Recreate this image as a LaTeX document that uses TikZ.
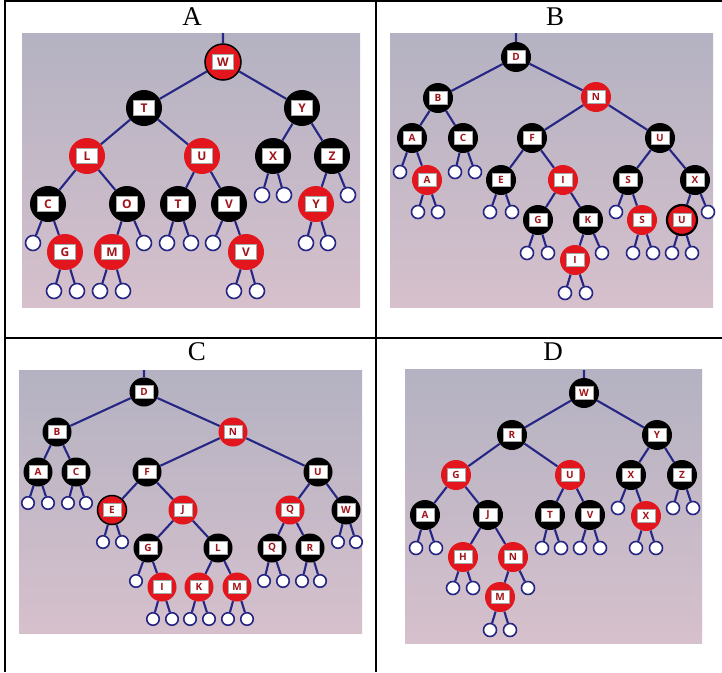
\documentclass[tikz,border=0pt]{standalone}
\usepackage{fontspec}
\setmainfont{Liberation Serif}
\newfontfamily\lblfont{Open Sans}
\definecolor{rbred}{RGB}{226,22,28}
\definecolor{lettred}{RGB}{160,20,26}
\definecolor{edgeblue}{RGB}{38,38,132}
\definecolor{bgtop}{RGB}{180,178,194}
\definecolor{bgmid}{RGB}{168,170,188}
\definecolor{bgbot}{RGB}{214,192,204}
\tikzset{
  edge/.style={draw=edgeblue, line width=2.1pt},
  bnode/.style={circle, inner sep=0pt, ndsize, fill=black},
  rnode/.style={circle, inner sep=0pt, ndsize, fill=rbred},
  leaf/.style={circle, inner sep=0pt, lfsize, fill=white, draw=edgeblue, line width=1.6pt},
  lbl/.style={rectangle, inner sep=0pt, lbsize, fill=white, draw=black!35, line width=0.3pt, text=lettred},
  title/.style={font=\fontsize{27}{27}\selectfont},
  panelbg/.style={top color=bgtop, middle color=bgmid, bottom color=bgbot},
  frame/.style={line width=1.5pt}
}
% black node, red node, leaf
\newcommand\bn[3]{\node[bnode] (#1) at (#2) {}; \node[lbl] (#1-t) at (#1) {#3};}
\newcommand\rn[4][]{\node[rnode,#1] (#2) at (#3) {}; \node[lbl] (#2-t) at (#2) {#4};}
\newcommand\lf[2]{\node[leaf] (#1) at (#2) {};}
\begin{document}
\begin{tikzpicture}[x=1pt,y=-1pt]
\useasboundingbox (0,0) rectangle (722,672);
\fill[white] (0,0) rectangle (722,672);

% panel backgrounds
\shade[panelbg] (22,33) rectangle (360,307);
\shade[panelbg] (390,33) rectangle (713,307);
\shade[panelbg] (19,370) rectangle (362,633);
\shade[panelbg] (405,369) rectangle (702,643);

% grid lines
\draw[frame] (5,672) -- (5,1) -- (722,1);
\draw[frame] (376,1) -- (376,672);
\draw[frame] (5,338) -- (722,338);

% titles
\node[title] (tA) at (192,17) {A};
\node[title] (tB) at (555,17) {B};
\node[title] (tC) at (197,352) {C};
\node[title] (tD) at (553,352) {D};

% ---------------- panel A ----------------
\begin{scope}[ndsize/.style={minimum size=36pt}, lfsize/.style={minimum size=15pt},
  lbsize/.style={minimum width=21pt, minimum height=15pt, font=\lblfont\bfseries\fontsize{12}{12}\selectfont}]
\rn[draw=black,line width=1.5pt]{aW}{223,62}{W}
\bn{aT}{144,108}{T}
\bn{aY}{302,108}{Y}
\rn{aL}{87,156}{L}
\rn{aU}{202,156}{U}
\bn{aX}{273,156}{X}
\bn{aZ}{332,156}{Z}
\bn{aC}{48,204}{C}
\bn{aO}{127,204}{O}
\bn{aT2}{178,204}{T}
\bn{aV}{229,204}{V}
\rn{aY2}{316,204}{Y}
\rn{aG}{65,252}{G}
\rn{aM}{112,252}{M}
\rn{aV2}{246,252}{V}
\lf{aXl}{262,195} \lf{aXr}{284,195} \lf{aZr}{348,195}
\lf{aCl}{33,243} \lf{aOr}{144,243}
\lf{aT2l}{167,243} \lf{aT2r}{191,243}
\lf{aVl}{213,243}
\lf{aY2l}{306,243} \lf{aY2r}{328,243}
\lf{aGl}{54,291} \lf{aGr}{77,291}
\lf{aMl}{100,291} \lf{aMr}{123,291}
\lf{aV2l}{234,291} \lf{aV2r}{257,291}
\coordinate (aTop) at (223,33);
\path[edge] (aTop) -- (aW) (aW) -- (aT) (aW) -- (aY)
  (aT) -- (aL) (aT) -- (aU) (aY) -- (aX) (aY) -- (aZ)
  (aL) -- (aC) (aL) -- (aO) (aU) -- (aT2) (aU) -- (aV)
  (aX) -- (aXl) (aX) -- (aXr) (aZ) -- (aY2) (aZ) -- (aZr)
  (aC) -- (aCl) (aC) -- (aG) (aO) -- (aM) (aO) -- (aOr)
  (aT2) -- (aT2l) (aT2) -- (aT2r) (aV) -- (aVl) (aV) -- (aV2)
  (aY2) -- (aY2l) (aY2) -- (aY2r)
  (aG) -- (aGl) (aG) -- (aGr) (aM) -- (aMl) (aM) -- (aMr)
  (aV2) -- (aV2l) (aV2) -- (aV2r);
\end{scope}

% ---------------- panel B ----------------
\begin{scope}[ndsize/.style={minimum size=30pt}, lfsize/.style={minimum size=13pt},
  lbsize/.style={minimum width=18pt, minimum height=13pt, font=\lblfont\bfseries\fontsize{10}{10}\selectfont}]
\bn{bD}{516,57}{D}
\bn{bB}{438,98}{B}
\rn{bN}{596,97}{N}
\bn{bA}{412,138}{A}
\bn{bC}{463,138}{C}
\bn{bF}{532,138}{F}
\bn{bU}{660,138}{U}
\rn{bA2}{427,180}{A}
\bn{bE}{501,180}{E}
\rn{bI}{563,180}{I}
\bn{bS}{628,180}{S}
\bn{bX}{695,180}{X}
\bn{bG}{538,220}{G}
\bn{bK}{588,220}{K}
\rn{bS2}{642,220}{S}
\rn[draw=black,line width=2.2pt]{bU2}{682,220}{U}
\rn{bI2}{575,260}{I}
\lf{bAl}{400,172} \lf{bCl}{455,172} \lf{bCr}{475,172}
\lf{bA2l}{418,212} \lf{bA2r}{438,212}
\lf{bEl}{490,212} \lf{bEr}{512,212}
\lf{bSl}{616,212} \lf{bXr}{708,212}
\lf{bGl}{527,253} \lf{bGr}{548,253} \lf{bKr}{602,253}
\lf{bS2l}{633,253} \lf{bS2r}{653,253}
\lf{bU2l}{672,253} \lf{bU2r}{692,253}
\lf{bI2l}{565,293} \lf{bI2r}{586,293}
\coordinate (bTop) at (516,33);
\path[edge] (bTop) -- (bD) (bD) -- (bB) (bD) -- (bN)
  (bB) -- (bA) (bB) -- (bC) (bN) -- (bF) (bN) -- (bU)
  (bA) -- (bAl) (bA) -- (bA2) (bC) -- (bCl) (bC) -- (bCr)
  (bF) -- (bE) (bF) -- (bI) (bU) -- (bS) (bU) -- (bX)
  (bA2) -- (bA2l) (bA2) -- (bA2r) (bE) -- (bEl) (bE) -- (bEr)
  (bI) -- (bG) (bI) -- (bK) (bS) -- (bSl) (bS) -- (bS2)
  (bX) -- (bU2) (bX) -- (bXr)
  (bG) -- (bGl) (bG) -- (bGr) (bK) -- (bI2) (bK) -- (bKr)
  (bS2) -- (bS2l) (bS2) -- (bS2r) (bU2) -- (bU2l) (bU2) -- (bU2r)
  (bI2) -- (bI2l) (bI2) -- (bI2r);
\end{scope}

% ---------------- panel C ----------------
\begin{scope}[ndsize/.style={minimum size=29pt}, lfsize/.style={minimum size=12.5pt},
  lbsize/.style={minimum width=18pt, minimum height=13pt, font=\lblfont\bfseries\fontsize{10}{10}\selectfont}]
\bn{cD}{144,392}{D}
\bn{cB}{57,432}{B}
\rn{cN}{233,432}{N}
\bn{cA}{38,472}{A}
\bn{cC}{76,472}{C}
\bn{cF}{147,472}{F}
\bn{cU}{318,472}{U}
\rn[draw=black,line width=1.5pt]{cE}{112,510}{E}
\rn{cJ}{183,510}{J}
\rn{cQ}{290,510}{Q}
\bn{cW}{346,510}{W}
\bn{cG}{148,548}{G}
\bn{cL}{218,548}{L}
\bn{cQ2}{272,548}{Q}
\bn{cR}{310,548}{R}
\rn{cI}{162,587}{I}
\rn{cK}{199,587}{K}
\rn{cM}{237,587}{M}
\lf{cAl}{28,503} \lf{cAr}{48,503} \lf{cCl}{68,503} \lf{cCr}{86,503}
\lf{cEl}{103,542} \lf{cEr}{122,542}
\lf{cWl}{338,542} \lf{cWr}{356,542}
\lf{cGl}{136,581}
\lf{cQ2l}{264,581} \lf{cQ2r}{283,581}
\lf{cRl}{302,581} \lf{cRr}{320,581}
\lf{cIl}{153,619} \lf{cIr}{172,619}
\lf{cKl}{190,619} \lf{cKr}{209,619}
\lf{cMl}{228,619} \lf{cMr}{247,619}
\coordinate (cTop) at (144,370);
\path[edge] (cTop) -- (cD) (cD) -- (cB) (cD) -- (cN)
  (cB) -- (cA) (cB) -- (cC) (cN) -- (cF) (cN) -- (cU)
  (cA) -- (cAl) (cA) -- (cAr) (cC) -- (cCl) (cC) -- (cCr)
  (cF) -- (cE) (cF) -- (cJ) (cU) -- (cQ) (cU) -- (cW)
  (cE) -- (cEl) (cE) -- (cEr) (cJ) -- (cG) (cJ) -- (cL)
  (cQ) -- (cQ2) (cQ) -- (cR) (cW) -- (cWl) (cW) -- (cWr)
  (cG) -- (cGl) (cG) -- (cI) (cL) -- (cK) (cL) -- (cM)
  (cQ2) -- (cQ2l) (cQ2) -- (cQ2r) (cR) -- (cRl) (cR) -- (cRr)
  (cI) -- (cIl) (cI) -- (cIr) (cK) -- (cKl) (cK) -- (cKr)
  (cM) -- (cMl) (cM) -- (cMr);
\end{scope}

% ---------------- panel D ----------------
\begin{scope}[ndsize/.style={minimum size=30pt}, lfsize/.style={minimum size=13pt},
  lbsize/.style={minimum width=18pt, minimum height=13pt, font=\lblfont\bfseries\fontsize{10}{10}\selectfont}]
\bn{dW}{584,393}{W}
\bn{dR}{512,435}{R}
\bn{dY}{657,435}{Y}
\rn{dG}{456,475}{G}
\rn{dU}{570,475}{U}
\bn{dX}{631,475}{X}
\bn{dZ}{682,475}{Z}
\bn{dA}{425,515}{A}
\bn{dJ}{488,515}{J}
\bn{dT}{550,515}{T}
\bn{dV}{590,515}{V}
\rn{dX2}{646,516}{X}
\rn{dH}{463,557}{H}
\rn{dN}{513,557}{N}
\rn{dM}{500,597}{M}
\lf{dXl}{618,508} \lf{dZl}{673,508} \lf{dZr}{693,508}
\lf{dAl}{416,548} \lf{dAr}{436,548}
\lf{dTl}{542,548} \lf{dTr}{561,548}
\lf{dVl}{580,548} \lf{dVr}{600,548}
\lf{dX2l}{636,548} \lf{dX2r}{656,548}
\lf{dHl}{453,588} \lf{dHr}{473,588} \lf{dNr}{528,588}
\lf{dMl}{490,630} \lf{dMr}{510,630}
\coordinate (dTop) at (584,370);
\path[edge] (dTop) -- (dW) (dW) -- (dR) (dW) -- (dY)
  (dR) -- (dG) (dR) -- (dU) (dY) -- (dX) (dY) -- (dZ)
  (dG) -- (dA) (dG) -- (dJ) (dU) -- (dT) (dU) -- (dV)
  (dX) -- (dXl) (dX) -- (dX2) (dZ) -- (dZl) (dZ) -- (dZr)
  (dA) -- (dAl) (dA) -- (dAr) (dJ) -- (dH) (dJ) -- (dN)
  (dT) -- (dTl) (dT) -- (dTr) (dV) -- (dVl) (dV) -- (dVr)
  (dX2) -- (dX2l) (dX2) -- (dX2r)
  (dH) -- (dHl) (dH) -- (dHr) (dN) -- (dM) (dN) -- (dNr)
  (dM) -- (dMl) (dM) -- (dMr);
\end{scope}
\end{tikzpicture}
\end{document}
